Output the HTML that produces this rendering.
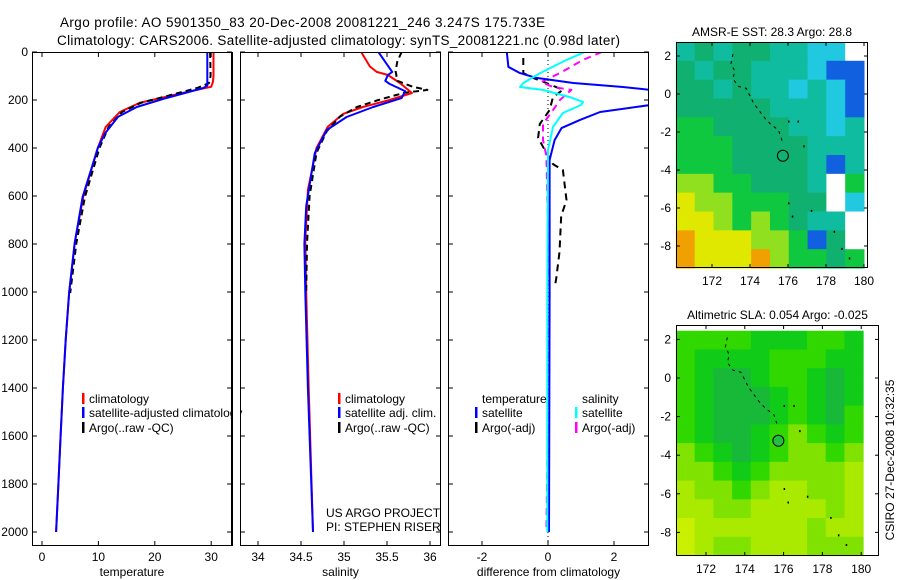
<!DOCTYPE html>
<html><head><meta charset="utf-8"><style>
html,body{margin:0;padding:0;background:#fff;}
svg{display:block;font-family:"Liberation Sans",sans-serif;}
</style></head><body>
<svg id="fig" width="900" height="580" viewBox="0 0 900 580" xmlns="http://www.w3.org/2000/svg"></svg>
<script>
// ---------- data ----------
const depthTicks = [0,200,400,600,800,1000,1200,1400,1600,1800,2000];
const tempTicks = [0,10,20,30];
const salTicks = [34,34.5,35,35.5,36];
const salTickLabels = ["34","34.5","35","35.5","36"];
const diffTicks = [-2,0,2];

const tClimDepth = [0,100,125,145,170,212,250,312,400,604,796,1004,1200,1400,1600,1800,2000];
const tClimVal   = [30.4,30.4,30.3,30.0,25,17.3,13.8,11.3,9.9,7.3,5.8,4.8,4.2,3.7,3.3,2.9,2.5];
const tSatDepth  = [0,140,150,192,229,270,338,400,604,796,1004,1200,1400,1600,1800,2000];
const tSatVal    = [29.3,29.3,28.6,22,16.8,13.5,11.2,9.9,7.2,5.8,4.8,4.2,3.7,3.3,2.9,2.5];
const tArgoDepth = [0,100,130,150,175,212,250,312,400,604,796,1004];
const tArgoVal   = [29.8,29.9,29.6,27.5,23.5,17.5,14.2,11.8,10.2,7.6,6.1,5.0];

const sClimDepth = [0,60,83,96,129,171,200,229,258,312,400,575,783,1000,1400,2000];
const sClimVal   = [35.2,35.3,35.38,35.51,35.65,35.79,35.53,35.22,34.99,34.81,34.68,34.58,34.55,34.56,34.59,34.64];
const sSatDepth  = [0,83,96,120,133,163,192,229,271,325,421,642,800,1000,1400,2000];
const sSatVal    = [35.4,35.56,35.51,35.48,35.53,35.71,35.67,35.34,35.03,34.8,34.66,34.56,34.54,34.55,34.58,34.64];
const sArgoDepth = [0,40,80,120,145,158,170,200,229,270,330,420,600,800,1000];
const sArgoVal   = [35.67,35.62,35.6,35.62,35.8,35.97,35.7,35.4,35.15,34.95,34.8,34.68,34.6,34.57,34.56];

const dTSatDepth = [0,62,88,108,129,146,158,221,250,283,317,367,450,1000,2000];
const dTSatVal   = [-1.25,-1.2,-0.85,-0.35,0.77,2.27,3.1,3.1,1.58,0.97,0.41,0.2,0.05,0.05,0.03];
const dSSatDepth = [0,33,88,129,146,158,188,208,221,254,312,408,1000,2000];
const dSSatVal   = [1.12,0.56,-0.24,-0.75,-0.85,-0.15,0.66,1.06,1.0,0.45,0.15,0.0,-0.02,-0.02];
const dSArgoDepth = [0,33,88,125,146,158,200,242,300,367,433,1000,2000];
const dSArgoVal   = [1.63,1.06,0.36,-0.2,0.15,0.71,0.36,0.15,-0.15,-0.15,-0.05,0.05,-0.05];
const dTArgoDepth = [25,88,108,129,158,188,242,300,358,408,467,492,617,683,833,942,983];
const dTArgoVal   = [-0.75,-0.75,-0.45,-0.05,0.45,0.15,0.05,-0.25,-0.3,-0.1,0.15,0.45,0.56,0.4,0.35,0.25,0.2];

const lonTicks = [172,174,176,178,180];
const latTicks = [2,0,-2,-4,-6,-8];
const sstGrid = [
 [4,5,4,5,5,4,4,3,3,0],
 [5,4,5,5,4,4,4,3,2,2],
 [5,5,4,5,4,4,3,4,3,2],
 [5,5,5,5,5,4,4,4,3,2],
 [6,6,5,5,5,5,4,4,3,4],
 [6,6,6,5,5,5,5,4,4,4],
 [6,6,6,5,5,5,5,4,2,4],
 [7,7,6,6,5,5,5,4,0,6],
 [8,7,7,6,6,6,5,5,0,3],
 [8,8,7,6,7,6,5,4,4,0],
 [9,8,8,8,7,7,6,2,5,0],
 [9,8,8,8,9,7,6,6,5,6]];
const slaGrid = [
 [3,3,3,3,2,2,2,3,3,2],
 [3,2,2,2,2,3,3,3,2,2],
 [3,2,1,1,2,3,3,2,1,2],
 [3,2,1,1,1,2,3,2,1,2],
 [3,2,1,1,1,2,3,2,1,3],
 [3,2,1,1,2,3,4,3,2,3],
 [4,3,2,1,2,3,4,4,3,4],
 [4,4,3,2,3,4,4,4,4,5],
 [5,4,4,3,4,5,5,4,4,5],
 [5,5,4,4,5,5,5,5,4,5],
 [6,5,5,5,5,5,5,4,5,5],
 [6,5,4,4,5,5,5,4,4,4]];
const trackLon = [173.1,173.0,173.2,173.1,173.4,173.8,174.2,174.5,174.8,175.1,175.5,175.7];
const trackLat = [2.1,1.6,1.2,0.8,0.4,0.3,-0.5,-0.9,-1.3,-1.6,-1.9,-2.5];
const trackLon2 = [176.0,176.5,176.8,176.0,176.2,177.2,178.4,178.8,179.2];
const trackLat2 = [-1.4,-1.4,-2.7,-5.7,-6.4,-6.1,-7.2,-8.1,-8.6];
const argoLon = 175.73, argoLat = -3.25;

// ---------- helpers ----------
const NS="http://www.w3.org/2000/svg";
const svg=document.getElementById('fig');
function mk(tag,attrs,parent){const e=document.createElementNS(NS,tag);for(const k in attrs)e.setAttribute(k,attrs[k]);(parent||svg).appendChild(e);return e;}
function txt(s,x,y,size,anchor,parent){const t=mk('text',{x:x,y:y,'font-size':size,'text-anchor':anchor||'start',fill:'#000'},parent);t.textContent=s;return t;}

const pTop=52, pBot=546;
const yD = d => 52 + d*0.24;
const panels = [
 {x0:32,x1:232,sx:v=>42+v*5.64,name:'temperature-panel'},
 {x0:240,x1:441,sx:v=>258+(v-34)*86,name:'salinity-panel'},
 {x0:448,x1:649,sx:v=>548+v*33,name:'difference-panel'}];

let t1=txt('Argo profile: AO 5901350_83 20-Dec-2008 20081221_246 3.247S 175.733E',60,27,13.5);
t1.setAttribute('textLength','485');


let t2=txt('Climatology: CARS2006. Satellite-adjusted climatology: synTS_20081221.nc (0.98d later)',57,45,13.5);
t2.setAttribute('textLength','563');



function axesBox(p,xticks,xlabels,xtitle){
 const g=mk('g',{});
 
 
 const clip=mk('clipPath',{id:'c'+p.name},g);
 mk('rect',{x:p.x0,y:pTop,width:p.x1-p.x0,height:pBot-pTop},clip);
 p.g=mk('g',{'clip-path':'url(#c'+p.name+')'},g);
 xticks.forEach((v,i)=>{const x=p.sx(v);
  mk('line',{x1:x,y1:pTop,x2:x,y2:pTop+5,stroke:'#000'},g);
  mk('line',{x1:x,y1:pBot,x2:x,y2:pBot-5,stroke:'#000'},g);
  const l=txt(xlabels[i],x,561,12,'middle',g);
  
  });
 depthTicks.forEach(d=>{const y=yD(d);
  mk('line',{x1:p.x0,y1:y,x2:p.x0+5,y2:y,stroke:'#000'},g);
  mk('line',{x1:p.x1,y1:y,x2:p.x1-5,y2:y,stroke:'#000'},g);});
 mk('rect',{x:p.x0+0.5,y:pTop+0.5,width:p.x1-p.x0-1,height:pBot-pTop-1,fill:'none',stroke:'#000'},g);
 const xt=txt(xtitle,(p.x0+p.x1)/2,576,12,'middle',g);
 
 
}
axesBox(panels[0],tempTicks,tempTicks.map(String),'temperature');
axesBox(panels[1],salTicks,salTickLabels,'salinity');
axesBox(panels[2],diffTicks,diffTicks.map(String),'difference from climatology');
depthTicks.forEach(d=>{const l=txt(String(d),28,yD(d)+4,12,'end');
 
 });

function line(p,ds,vs,color,dash,w,name){
 const pts=ds.map((d,i)=>p.sx(vs[i]).toFixed(1)+','+yD(d).toFixed(1)).join(' ');
 const e=mk('polyline',{points:pts,fill:'none',stroke:color,'stroke-width':w||2,'stroke-dasharray':dash||'none','stroke-linejoin':'round'},p.g);
 
 
}
const z=mk('line',{x1:548,y1:pTop,x2:548,y2:pBot,stroke:'#000','stroke-dasharray':'1 3'},panels[2].g);



line(panels[0],tClimDepth,tClimVal,'#f00',null,2,'temp-climatology-line');
line(panels[0],tArgoDepth,tArgoVal,'#000','6 4',2,'temp-argo-line');
line(panels[0],tSatDepth,tSatVal,'#00f',null,2,'temp-satellite-line');
line(panels[1],sClimDepth,sClimVal,'#f00',null,2,'sal-climatology-line');
line(panels[1],sArgoDepth,sArgoVal,'#000','6 4',2,'sal-argo-line');
line(panels[1],sSatDepth,sSatVal,'#00f',null,2,'sal-satellite-line');
line(panels[2],dTArgoDepth,dTArgoVal,'#000','7 5',2,'diff-temp-argo-line');
line(panels[2],dSArgoDepth,dSArgoVal,'#f0f','7 5',2,'diff-sal-argo-line');
line(panels[2],dTSatDepth,dTSatVal,'#00f',null,2,'diff-temp-satellite-line');
line(panels[2],dSSatDepth,dSSatVal,'#0ff',null,2,'diff-sal-satellite-line');

function legend(x,y,color,label){
 const g=mk('g',{});
 
 
 if(color) mk('rect',{x:x,y:y-9,width:2.5,height:11,fill:color},g);
 txt(label,x+7,y+1,12,'start',g);
}
legend(82,402,'#f00','climatology');
legend(82,416,'#00f','satellite-adjusted climatology');
legend(82,431,'#000','Argo(..raw -QC)');
mk('rect',{x:233,y:390,width:7,height:50,fill:'#fff'});
mk('line',{x1:232.5,y1:52,x2:232.5,y2:546,stroke:'#000'});
mk('line',{x1:240.5,y1:52,x2:240.5,y2:546,stroke:'#000'});
legend(338,402,'#f00','climatology');
legend(338,416,'#00f','satellite adj. clim.');
legend(338,431,'#000','Argo(..raw -QC)');
legend(475,402,null,'temperature');
legend(475,416,'#00f','satellite');
legend(475,431,'#000','Argo(-adj)');
legend(575,402,null,'salinity');
legend(575,416,'#0ff','satellite');
legend(575,431,'#f0f','Argo(-adj)');
const pr=txt('US ARGO PROJECT',326,517,12);


const pi=txt('PI: STEPHEN RISER',326,531,12);



const sstColors=['#ffffff','#001098','#1060e0','#20c8e0','#10bca0','#10b070','#10c840','#90e020','#e0e800','#f0a000'];
const slaColors=['#ffffff','#18b838','#10cc18','#30d800','#80e200','#aaea00','#c8f000'];
function map(m){
 const g=mk('g',{});
 
 
 const rows=m.grid.length, cols=m.grid[0].length;
 const lon0=m.lonMin, lon1=m.lonMax, lat0=m.latMax, lat1=m.latMin;
 const cw=(lon1-lon0)/cols, ch=(lat0-lat1)/rows;
 m.grid.forEach((row,r)=>row.forEach((v,c)=>{
  const x=m.sx(lon0+c*cw), y=m.sy(lat0-r*ch);
  const cell=mk('rect',{x:x,y:y,width:m.sx(lon0+(c+1)*cw)-x+0.5,height:m.sy(lat0-(r+1)*ch)-y+0.5,fill:m.colors[v]},g);
  
  
 }));
 const tp=trackLon.map((l,i)=>m.sx(l).toFixed(1)+','+m.sy(trackLat[i]).toFixed(1)).join(' ');
 const tr=mk('polyline',{points:tp,fill:'none',stroke:'#000','stroke-width':1,'stroke-dasharray':'3 4'},g);
 
 
 trackLon2.forEach((l,i)=>{const d=mk('rect',{x:m.sx(l),y:m.sy(trackLat2[i]),width:1.5,height:2,fill:'#000'},g);
  
  });
 const c=mk('circle',{cx:m.sx(argoLon),cy:m.sy(argoLat),r:5.5,fill:m.circleFill,stroke:'#000','stroke-width':1},g);
 
 
 lonTicks.forEach(l=>{const x=m.sx(l);
  mk('line',{x1:x,y1:m.y0,x2:x,y2:m.y0+4,stroke:'#000'},g);
  mk('line',{x1:x,y1:m.y1,x2:x,y2:m.y1-4,stroke:'#000'},g);
  const t=txt(String(l),x,m.y1+17,12,'middle',g);
  
  });
 latTicks.forEach(l=>{const y=m.sy(l);
  mk('line',{x1:m.x0,y1:y,x2:m.x0+4,y2:y,stroke:'#000'},g);
  mk('line',{x1:m.x1,y1:y,x2:m.x1-4,y2:y,stroke:'#000'},g);
  const t=txt(String(l),m.x0-5,y+4,12,'end',g);
  
  });
 mk('rect',{x:m.x0+0.5,y:m.y0+0.5,width:m.x1-m.x0-1,height:m.y1-m.y0-1,fill:'none',stroke:'#000'},g);
 const tt=txt(m.title,(m.x0+m.x1)/2,m.y0-6,12,'middle',g);
 
 
}
map({name:'sst-map',grid:sstGrid,colors:sstColors,circleFill:'none',x0:676,x1:868,y0:42,y1:268,
 sx:l=>712+(l-172)*19,sy:a=>94-a*19,lonMin:170.1,lonMax:180.0,latMax:2.74,latMin:-9.16,
 title:'AMSR-E SST: 28.3 Argo: 28.8'});
map({name:'sla-map',grid:slaGrid,colors:slaColors,circleFill:'#20c040',x0:676,x1:879,y0:325,y1:556,
 sx:l=>706+(l-172)*19.4,sy:a=>378-a*19.3,lonMin:170.45,lonMax:180.1,latMax:2.45,latMin:-9.2,
 title:'Altimetric SLA: 0.054 Argo: -0.025'});
const cs=txt('CSIRO 27-Dec-2008 10:32:35',0,0,12,'middle');
cs.setAttribute('transform','translate(894,460) rotate(-90)');


</script>
</body></html>
